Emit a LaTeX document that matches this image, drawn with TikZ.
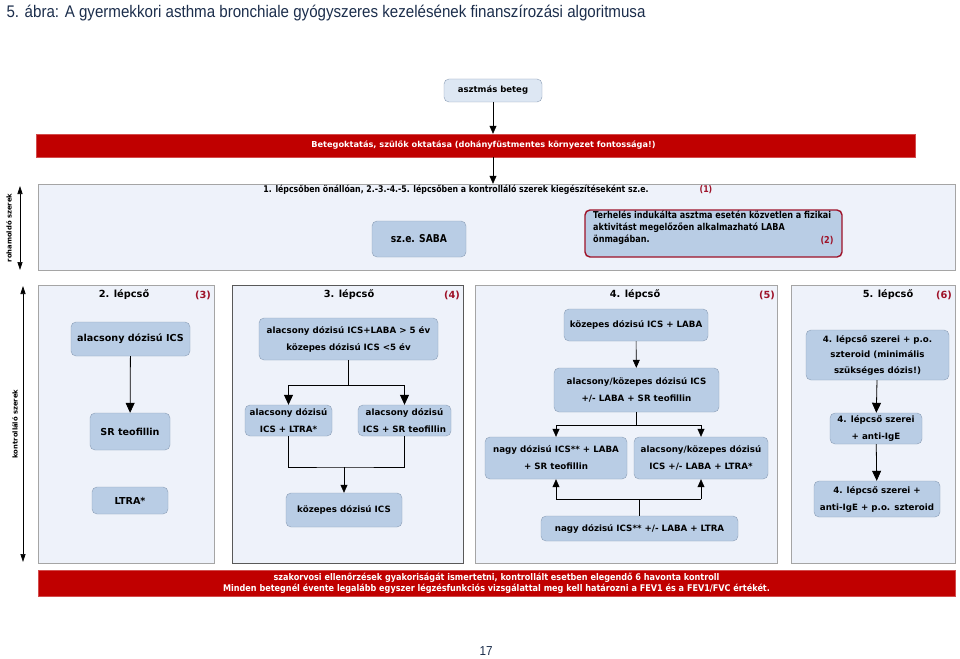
\documentclass[tikz,border=0pt]{standalone}
\usepackage{fontspec}
\setmainfont{DejaVu Sans}
\newfontfamily\titlefont[FakeStretch=0.9]{Liberation Sans}
\newfontfamily\narrowfont[FakeStretch=0.85]{DejaVu Sans}
\newfontfamily\notefont[FakeStretch=0.88]{DejaVu Sans}
\usetikzlibrary{positioning}
\usetikzlibrary{arrows.meta}
\usetikzlibrary{calc}
\definecolor{boxblue}{RGB}{185,205,229}
\definecolor{boxedge}{RGB}{140,158,182}
\definecolor{palebox}{RGB}{221,231,243}
\definecolor{panelfill}{RGB}{238,242,250}
\definecolor{paneledge}{RGB}{165,165,165}
\definecolor{barred}{RGB}{192,0,0}
\definecolor{numred}{RGB}{158,18,40}
\definecolor{titleblue}{RGB}{28,46,76}
\tikzstyle{drug}=[rectangle,rounded corners=5pt,fill=boxblue,draw=boxedge,align=center,inner sep=0pt,font=\bfseries\fontsize{8.7}{17}\selectfont]
\tikzstyle{bigdrug}=[drug,font=\bfseries\fontsize{9.6}{17}\selectfont]
\tikzstyle{redbar}=[rectangle,fill=barred,draw=barred!70,text=white,align=center,inner sep=0pt]
\tikzstyle{panel}=[fill=panelfill,draw=paneledge]
\tikzstyle{flow}=[draw,thick,-{Triangle[length=10pt,width=9pt]}]
\tikzstyle{thinflow}=[draw,semithick,-{Triangle[length=8pt,width=7pt]}]
\tikzstyle{line}=[draw,thick]
\tikzstyle{biarrow}=[draw,semithick,{Triangle[length=8pt,width=5pt]}-{Triangle[length=8pt,width=5pt]}]
\tikzstyle{header}=[font=\bfseries\fontsize{9.8}{12}\selectfont]
\tikzstyle{stepno}=[font=\bfseries\fontsize{9.8}{12}\selectfont,text=numred]
\tikzstyle{sidelabel}=[rotate=90,font=\bfseries\fontsize{6.8}{8}\selectfont]

\begin{document}
\begin{tikzpicture}[x=1pt,y=-1pt]
    \useasboundingbox (0,0) rectangle (960,658);
    \fill[white] (0,0) rectangle (960,658);

    % title and page number
    \node[anchor=west,text=titleblue,font=\titlefont\fontsize{16.8}{19}\selectfont] (title) at (3,13) {5. ábra: A gyermekkori asthma bronchiale gyógyszeres kezelésének finanszírozási algoritmusa};
    \node[text=titleblue,font=\titlefont\fontsize{13}{15}\selectfont] (page) at (486,651) {17};

    % patient and education
    \node[drug,fill=palebox,minimum width=98,minimum height=23,font=\bfseries\fontsize{8.5}{10}\selectfont] (patient) at (493,90.5) {asztmás beteg};
    \node[redbar,minimum width=879,minimum height=23,font=\bfseries\fontsize{8.2}{10}\selectfont] (educ) at (475.5,145.5) {\hspace*{16pt}Betegoktatás, szülők oktatása (dohányfüstmentes környezet fontossága!)};
    \path[thinflow] (patient) -- (patient |- educ.north);

    % reliever block
    \node[panel,rectangle,minimum width=917,minimum height=86,inner sep=0pt] (reliever) at (496.5,227) {};
    \path[thinflow] (educ.south -| patient) -- (reliever.north -| patient);
    \node[font=\narrowfont\bfseries\fontsize{9.2}{10}\selectfont] (relieftxt) at (456,190) {1. lépcsőben önállóan, 2.-3.-4.-5. lépcsőben a kontrolláló szerek kiegészítéseként sz.e.};
    \node[font=\narrowfont\bfseries\fontsize{9.2}{10}\selectfont,text=numred] (n1) at (706,190) {(1)};
    \node[drug,minimum width=94,minimum height=36,font=\narrowfont\bfseries\fontsize{10.8}{12}\selectfont] (saba) at (419,239) {sz.e. SABA};
    \node[drug,draw=numred,line width=1.4pt,minimum width=257,minimum height=47] (exercise) at (713.5,233.5) {};
    \node[anchor=north west,align=left,inner sep=0pt,font=\narrowfont\bfseries\fontsize{9.5}{12}\selectfont] (exertxt) at (593,211) {Terhelés indukálta asztma esetén közvetlen a fizikai\\aktivitást megelőzően alkalmazható LABA\\önmagában.};
    \node[font=\narrowfont\bfseries\fontsize{9.5}{10}\selectfont,text=numred] (n2) at (827,241) {(2)};

    % side arrows
    \path[biarrow] (20,186) -- (20,270);
    \node[sidelabel] (rohamlbl) at (9,228) {rohamoldó szerek};
    \path[biarrow] (23,286) -- (23,562);
    \node[sidelabel] (kontrlbl) at (15,424) {kontrolláló szerek};

    % step panels
    \foreach \xa/\xb in {38/214, 475/777, 791/955}
        \draw[panel] (\xa,285) rectangle (\xb,563);
    \draw[panel,draw=black!65] (232,285) rectangle (463,563);

    \foreach \pos/\name/\label in {{(124,295)/h2/2. lépcső}, {(349,295)/h3/3. lépcső}, {(635,295)/h4/4. lépcső}, {(888,295)/h5/5. lépcső}}
        \node[header] (\name) at \pos {\label};
    \foreach \pos/\name/\label in {{(203,295)/n3/(3)}, {(452,295)/n4/(4)}, {(767,295)/n5/(5)}, {(944,295)/n6/(6)}}
        \node[stepno] (\name) at \pos {\label};

    % step 2
    \node[bigdrug,minimum width=119,minimum height=34] (s2a) at (130.5,339) {alacsony dózisú ICS};
    \node[bigdrug,minimum width=80,minimum height=37] (s2b) at (130,431.5) {SR teofillin};
    \node[bigdrug,minimum width=76,minimum height=27] (s2c) at (130,500.5) {LTRA*};
    \path[flow] (s2a) -- (s2b);

    % step 3
    \node[drug,minimum width=179,minimum height=42] (s3a) at (348.5,339) {alacsony dózisú ICS+LABA > 5 év\\közepes dózisú ICS <5 év};
    \node[drug,minimum width=87,minimum height=31] (s3b) at (288.5,420.5) {alacsony dózisú\\ICS + LTRA*};
    \node[drug,minimum width=93,minimum height=31] (s3c) at (404.5,420.5) {alacsony dózisú\\ICS + SR teofillin};
    \node[drug,minimum width=116,minimum height=34] (s3d) at (344,510) {közepes dózisú ICS};
    \coordinate (s3split) at (348.5,385);
    \coordinate (s3join) at (344,467);
    \path[line] (s3a.south) -- (s3split);
    \path[line] (s3split -| s3b) -- (s3split -| s3c);
    \path[flow] (s3split -| s3b) -- (s3b.north);
    \path[flow] (s3split -| s3c) -- (s3c.north);
    \path[line] (s3b.south) |- (s3join) -| (s3c.south);
    \path[thinflow] (s3join) -- (s3d.north);

    % step 4
    \node[drug,minimum width=144,minimum height=32] (s4a) at (636,325) {közepes dózisú ICS + LABA};
    \node[drug,minimum width=165,minimum height=44] (s4b) at (636.5,390) {alacsony/közepes dózisú ICS\\+/- LABA + SR teofillin};
    \node[drug,minimum width=142,minimum height=42] (s4c) at (556,458) {nagy dózisú ICS** + LABA\\+ SR teofillin};
    \node[drug,minimum width=134,minimum height=42] (s4d) at (701,458) {alacsony/közepes dózisú\\ICS +/- LABA + LTRA*};
    \node[drug,minimum width=197,minimum height=25] (s4e) at (639.5,528.5) {nagy dózisú ICS** +/- LABA + LTRA};
    \coordinate (s4split) at (636.5,425);
    \coordinate (s4join) at (639.5,499);
    \path[thinflow] (s4a) -- (s4b);
    \path[draw,semithick] (s4b.south) -- (s4split);
    \path[draw,semithick] (s4split -| s4c) -- (s4split -| s4d);
    \path[thinflow] (s4split -| s4c) -- (s4c.north);
    \path[thinflow] (s4split -| s4d) -- (s4d.north);
    \path[draw,semithick] (s4e.north) -- (s4join);
    \path[draw,semithick] (s4join -| s4c) -- (s4join -| s4d);
    \path[thinflow] (s4join -| s4c) -- (s4c.south);
    \path[thinflow] (s4join -| s4d) -- (s4d.south);

    % step 5
    \node[drug,minimum width=143,minimum height=50,font=\bfseries\fontsize{8.7}{15.5}\selectfont] (s5a) at (877.5,355) {4. lépcső szerei + p.o.\\szteroid (minimális\\szükséges dózis!)};
    \node[drug,minimum width=92,minimum height=31] (s5b) at (876,428.5) {4. lépcső szerei\\+ anti-IgE};
    \node[drug,minimum width=126,minimum height=36] (s5c) at (877,499) {4. lépcső szerei +\\anti-IgE + p.o. szteroid};
    \path[flow] (s5a) -- (s5b);
    \path[flow] (s5b) -- (s5c);

    % notes
    \node[redbar,minimum width=917,minimum height=26,font=\notefont\bfseries\fontsize{9.2}{11}\selectfont] (notes) at (496.5,583) {szakorvosi ellenőrzések gyakoriságát ismertetni, kontrollált esetben elegendő 6 havonta kontroll\\Minden betegnél évente legalább egyszer légzésfunkciós vizsgálattal meg kell határozni a FEV1 és a FEV1/FVC értékét.};
\end{tikzpicture}
\end{document}
